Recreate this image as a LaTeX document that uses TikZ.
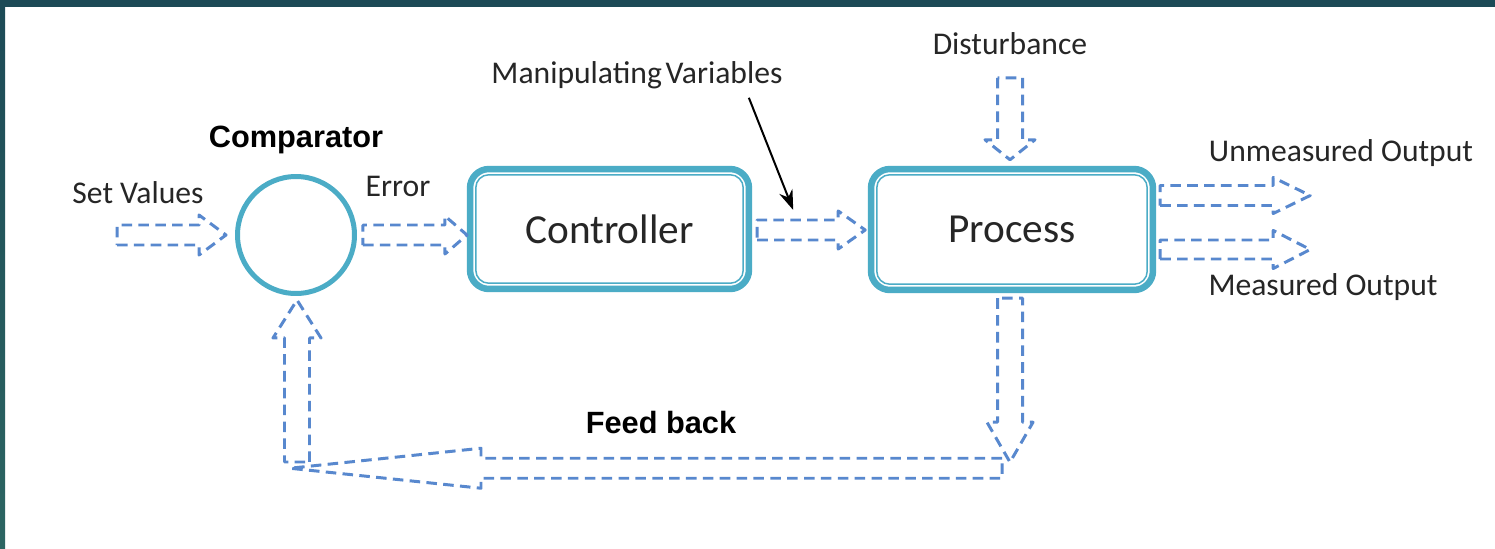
\documentclass[tikz,border=0pt]{standalone}
\usepackage{fontspec}
\setmainfont{Carlito}
\newfontfamily\headfont{Liberation Sans}
\usetikzlibrary{arrows.meta,calc}
\definecolor{ringblue}{RGB}{75,172,198}
\definecolor{flowblue}{RGB}{88,136,206}
\definecolor{textgray}{RGB}{38,38,38}
\definecolor{slidedark}{RGB}{28,74,86}
\definecolor{slidegreen}{RGB}{47,106,100}
\tikzset{ring/.style={circle,draw=ringblue,line width=0.1cm,minimum size=2.34cm,inner sep=0pt}}
\tikzset{block/.style={rectangle,draw=ringblue,line width=0.13cm,rounded corners=0.38cm,
    minimum width=5.58cm,minimum height=2.4cm,font=\fontsize{23.5}{28}\selectfont,text=textgray}}
\tikzset{rim/.style={draw=ringblue,line width=0.03cm,rounded corners=0.26cm}}
\tikzset{flowline/.style={draw=flowblue,line width=1.7pt,dash pattern=on 6pt off 3.6pt,line join=round}}
\tikzset{lbl/.style={font=\fontsize{18}{22}\selectfont,text=textgray,inner sep=0pt,anchor=base}}
\tikzset{hdr/.style={font=\headfont\bfseries\fontsize{17.5}{21}\selectfont,inner sep=0pt,anchor=base}}
\tikzset{pointer/.style={-{Stealth[length=0.4cm,width=0.28cm]},line width=0.04cm}}
% hollow dashed block arrow: angle, tail, length, head length, half shaft, half head
\newcommand{\flowarrow}[6]{%
  \begin{scope}[shift={(#2)},rotate=#1]
    \draw[flowline] (0,#5) -- (#3-#4,#5) -- (#3-#4,#6) -- (#3,0) -- (#3-#4,-#6)
      -- (#3-#4,-#5) -- (0,-#5) -- cycle;
  \end{scope}}
\begin{document}
\begin{tikzpicture}[x=0.02cm,y=-0.02cm]
            \useasboundingbox (0,0) rectangle (1495,548);
            % slide frame
            \fill[white] (0,0) rectangle (1495,548);
            \shade[top color=slidedark,bottom color=slidegreen!85!slidedark] (0,0) rectangle (5,548);
            \shade[left color=slidedark,middle color=slidegreen,right color=slidedark] (0,0) rectangle (1495,6);
            % the blocks
            \node[ring] (cmp) at (296,235) {};
            \node[block] (ctrl) at (609.5,229) {Controller};
            \node[block,minimum width=5.64cm,minimum height=2.42cm] (proc) at (1012,229.5) {Process};
            \draw[rim] ([shift={(9,9)}]ctrl.north west) rectangle ([shift={(-9,-9)}]ctrl.south east);
            \draw[rim] ([shift={(9,9)}]proc.north west) rectangle ([shift={(-9,-9)}]proc.south east);
            % labels
            \node[hdr] (cmplbl) at (296,147) {Comparator};
            \node[lbl] (setlbl) at (138,203) {Set Values};
            \node[lbl] (errlbl) at (398,196) {Error};
            \node[lbl] (mv) at (637,83) {Manipulating\hspace{0.12em}Variables};
            \node[lbl] (dist) at (1010,54) {Disturbance};
            \node[lbl] (unm) at (1341,161) {Unmeasured Output};
            \node[lbl] (meas) at (1323,295) {Measured Output};
            \node[hdr] (fb) at (661,433) {Feed back};
            % arrow ends
            \coordinate (setin) at ($(cmp.west)+(-118,0)$);
            \coordinate (errout) at ($(cmp.east)+(6,0)$);
            \coordinate (ctrlout) at ($(ctrl.east)+(5,1)$);
            \coordinate (unmout) at ($(proc.east)+(4,-34)$);
            \coordinate (measout) at ($(proc.east)+(4,20)$);
            \coordinate (distin) at ($(proc.north)+(-2,-88)$);
            \coordinate (fbdown) at ($(proc.south)+(-2,5)$);
            \coordinate (fbcorner) at ($(fbdown)+(-8,170)$);
            \coordinate (fbup) at ($(cmp.south)+(1,166)$);
            \coordinate (mvtip) at ($(ctrlout)+(36,-20)$);
            % signal flow
            \flowarrow{0}{setin}{109}{27}{10}{20}
            \flowarrow{0}{errout}{104}{22}{10}{19}
            \flowarrow{0}{ctrlout}{108}{27}{10}{19}
            \flowarrow{0}{unmout}{150}{37}{10}{18}
            \flowarrow{0}{measout}{150}{37}{9.5}{19}
            \flowarrow{-90}{distin}{82}{20}{12.5}{25}
            % feed back loop
            \flowarrow{-90}{fbdown}{164}{40}{12.5}{23}
            \flowarrow{180}{fbcorner}{712}{191}{10}{20}
            \flowarrow{90}{fbup}{162}{38}{12.5}{24}
            \draw[pointer] ($(mv.south east)+(-34,9)$) -- (mvtip);
        \end{tikzpicture}
\end{document}
